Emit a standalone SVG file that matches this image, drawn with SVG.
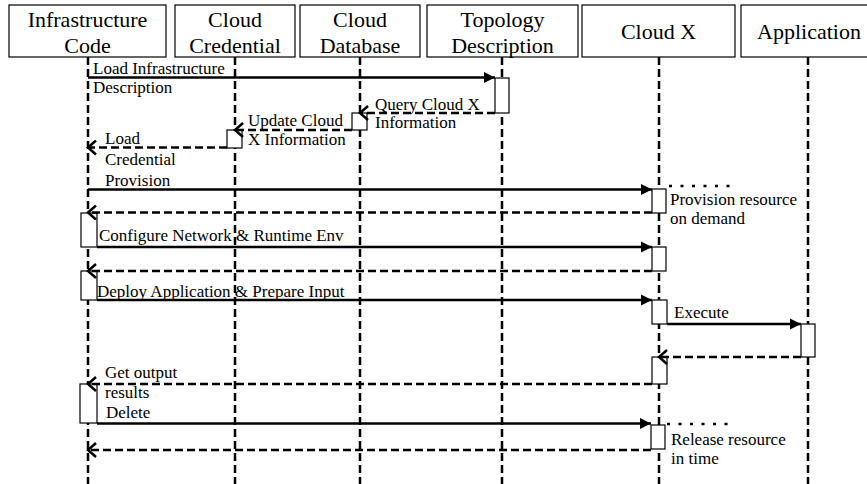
<svg xmlns="http://www.w3.org/2000/svg" width="867" height="484" viewBox="0 0 867 484">
<style>
.hdr{fill:#fff;stroke:#000;stroke-width:1.2}
.ht{font-family:"Liberation Serif","Times New Roman",serif;font-size:22px;fill:#000;text-anchor:middle}
.life{stroke:#000;stroke-width:2.5;stroke-dasharray:8,4;fill:none}
.act{fill:#fff;stroke:#000;stroke-width:1.2}
.call{stroke:#000;stroke-width:2.5;fill:none;marker-end:url(#filled)}
.ret{stroke:#000;stroke-width:2.5;stroke-dasharray:8,4;fill:none;marker-end:url(#open)}
.dot{stroke:#000;stroke-width:2.5;stroke-dasharray:3,8.5;fill:none}
.lb{font-family:"Liberation Serif","Times New Roman",serif;font-size:17px;fill:#000}
</style>
<defs>
<marker id="filled" markerUnits="userSpaceOnUse" markerWidth="12" markerHeight="12" refX="11" refY="6" orient="auto"><path d="M0,0.5 L11,6 L0,11.5 z" fill="#000"/></marker>
<marker id="open" markerUnits="userSpaceOnUse" markerWidth="12" markerHeight="16" refX="9" refY="8" orient="auto"><path d="M1,1 L9,8 L1,15" fill="none" stroke="#000" stroke-width="2.5"/></marker>
</defs>
<rect width="867" height="484" fill="#fff"/>
<g id="lifelines">
<line class="life" x1="88" y1="57" x2="88" y2="484"/>
<line class="life" x1="235" y1="57" x2="235" y2="484"/>
<line class="life" x1="360" y1="57" x2="360" y2="484"/>
<line class="life" x1="502" y1="57" x2="502" y2="484"/>
<line class="life" x1="659" y1="57" x2="659" y2="484"/>
<line class="life" x1="808" y1="57" x2="808" y2="484"/>
</g>
<g id="infra">
<rect class="hdr" x="9" y="5" width="157" height="52"/>
<text class="ht" x="87.5" y="27">Infrastructure</text>
<text class="ht" x="87.5" y="53">Code</text>
</g>
<g id="credential">
<rect class="hdr" x="175" y="5" width="120" height="52"/>
<text class="ht" x="235" y="27">Cloud</text>
<text class="ht" x="235" y="53">Credential</text>
</g>
<g id="database">
<rect class="hdr" x="300" y="5" width="120" height="52"/>
<text class="ht" x="360" y="27">Cloud</text>
<text class="ht" x="360" y="53">Database</text>
</g>
<g id="topology">
<rect class="hdr" x="427" y="5" width="151" height="52"/>
<text class="ht" x="502.5" y="27">Topology</text>
<text class="ht" x="502.5" y="53">Description</text>
</g>
<g id="cloudx">
<rect class="hdr" x="582" y="5" width="153" height="52"/>
<text class="ht" x="658.5" y="39">Cloud X</text>
</g>
<g id="application">
<rect class="hdr" x="741" y="5" width="134" height="52"/>
<text class="ht" x="809" y="39">Application</text>
</g>
<g id="activations">
<rect class="act" x="495" y="78" width="14" height="35"/>
<rect class="act" x="352" y="113" width="15" height="17"/>
<rect class="act" x="227" y="130" width="15" height="18"/>
<rect class="act" x="652" y="189" width="14" height="24"/>
<rect class="act" x="81" y="213" width="16" height="34"/>
<rect class="act" x="652" y="247" width="14" height="24"/>
<rect class="act" x="81" y="271" width="16" height="29"/>
<rect class="act" x="652" y="300" width="15" height="24"/>
<rect class="act" x="801" y="324" width="14" height="33"/>
<rect class="act" x="652" y="357" width="15" height="27"/>
<rect class="act" x="80" y="384" width="17" height="39"/>
<rect class="act" x="651" y="425" width="14" height="24"/>
</g>
<g id="connectors">
<line class="call" x1="88" y1="77.5" x2="495" y2="77.5"/>
<line class="ret" x1="495" y1="113" x2="360" y2="113"/>
<line class="ret" x1="352" y1="130" x2="235" y2="130"/>
<line class="ret" x1="227" y1="147.5" x2="88" y2="147.5"/>
<line class="call" x1="88" y1="189.5" x2="652" y2="189.5"/>
<line class="ret" x1="652" y1="212.5" x2="88" y2="212.5"/>
<line class="call" x1="97" y1="247" x2="652" y2="247"/>
<line class="ret" x1="652" y1="271" x2="88" y2="271"/>
<line class="call" x1="97" y1="300" x2="652" y2="300"/>
<line class="call" x1="667" y1="324" x2="801" y2="324"/>
<line class="ret" x1="801" y1="357" x2="659" y2="357"/>
<line class="ret" x1="652" y1="384" x2="88" y2="384"/>
<line class="call" x1="97" y1="423.5" x2="651" y2="423.5"/>
<line class="ret" x1="651" y1="450" x2="88" y2="450"/>
<line class="dot" x1="669" y1="186" x2="730" y2="186"/>
<line class="dot" x1="667" y1="424" x2="730" y2="424"/>
</g>
<g id="labels">
<text class="lb" x="93" y="74">Load Infrastructure</text>
<text class="lb" x="93" y="93">Description</text>
<text class="lb" x="375" y="110">Query Cloud X</text>
<text class="lb" x="375" y="128">Information</text>
<text class="lb" x="248" y="126">Update Cloud</text>
<text class="lb" x="248" y="145">X Information</text>
<text class="lb" x="105" y="144">Load</text>
<text class="lb" x="105" y="165">Credential</text>
<text class="lb" x="105" y="186">Provision</text>
<text class="lb" x="670" y="205">Provision resource</text>
<text class="lb" x="670" y="224">on demand</text>
<text class="lb" x="99" y="241">Configure Network &amp; Runtime Env</text>
<text class="lb" x="97" y="297">Deploy Application &amp; Prepare Input</text>
<text class="lb" x="674" y="318">Execute</text>
<text class="lb" x="105" y="378">Get output</text>
<text class="lb" x="105" y="398">results</text>
<text class="lb" x="106" y="418">Delete</text>
<text class="lb" x="671" y="445">Release resource</text>
<text class="lb" x="671" y="464">in time</text>
</g>
</svg>
